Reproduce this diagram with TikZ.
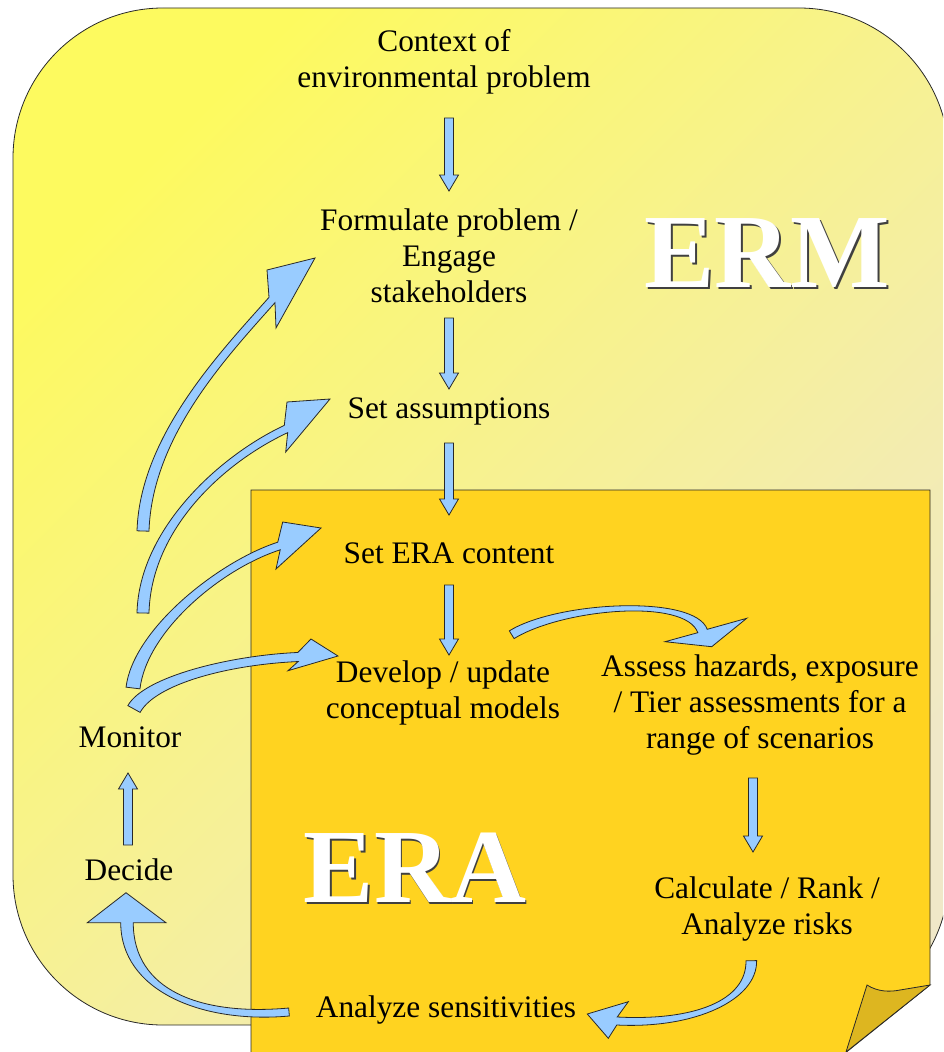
\documentclass[tikz,border=0pt]{standalone}
\usepackage{fontspec}
\setmainfont{Liberation Serif}
\usetikzlibrary{calc}
\definecolor{ermtop}{RGB}{253,250,95}
\definecolor{ermbot}{RGB}{240,232,200}
\definecolor{eragold}{RGB}{255,211,32}
\definecolor{flapgold}{RGB}{221,182,32}
\definecolor{arrowblue}{RGB}{153,204,255}
\definecolor{edge}{RGB}{40,40,40}
\tikzset{
  lbl/.style={align=center, inner sep=0pt, font=\fontsize{23.5}{27}\selectfont},
  bigtxt/.style={inner sep=0pt, font=\fontsize{79}{80}\selectfont\bfseries},
  barrow/.style={fill=arrowblue, draw=edge, line width=0.6pt, line join=miter},
}
\newcommand\vdown[3]{%
  \filldraw[barrow] (#1-4.5,#2) -- (#1+4.5,#2) -- (#1+4.5,#3-16) -- (#1+9.5,#3-16)
    -- (#1,#3) -- (#1-9.5,#3-16) -- (#1-4.5,#3-16) -- cycle;}
\newcommand\vup[3]{%
  \filldraw[barrow] (#1-4.5,#2) -- (#1+4.5,#2) -- (#1+4.5,#3+16) -- (#1+9.5,#3+16)
    -- (#1,#3) -- (#1-9.5,#3+16) -- (#1-4.5,#3+16) -- cycle;}
% curved block arrow: #1..#4 centre-line Bezier, #5 tail half width, #6 neck half width,
% #7 left head corner, #8 tip, #9 right head corner
\newcommand\carrow[9]{%
  \coordinate (p0) at (#1); \coordinate (p1) at (#2);
  \coordinate (p2) at (#3); \coordinate (p3) at (#4);
  \coordinate (l0) at ($(p0)!#5!90:(p1)$);
  \coordinate (r0) at ($(p0)!#5!-90:(p1)$);
  \coordinate (l3) at ($(p3)!#6!-90:(p2)$);
  \coordinate (r3) at ($(p3)!#6!90:(p2)$);
  \filldraw[barrow] (l0) .. controls ($(p1)+(l0)-(p0)$) and ($(p2)+(l3)-(p3)$) .. (l3)
    -- (#7) -- (#8) -- (#9) -- (r3)
    .. controls ($(p2)+(r3)-(p3)$) and ($(p1)+(r0)-(p0)$) .. (r0) -- cycle;}
\begin{document}
\begin{tikzpicture}[x=0.75pt,y=-0.75pt]
\useasboundingbox (0,0) rectangle (943,1052);
\clip (0,0) rectangle (943,1052);
% ERM frame
\shadedraw[draw=edge, line width=0.6pt, rounded corners=112.5pt,
  top color=ermtop, bottom color=ermbot, shading angle=45] (13,8) rectangle (949,1025);
% ERA note
\filldraw[fill=eragold, draw=edge, line width=0.6pt]
  (251,1070) -- (251,490) -- (930,490) -- (930,985) -- (834,1062) -- (834,1070) -- cycle;
\filldraw[fill=flapgold, draw=edge, line width=0.6pt]
  (867,985) .. controls (878,992) and (890,992) .. (900,990) -- (930,985) -- (846,1052) -- cycle;
% big titles
\node[bigtxt, text=black!75] (ermsh) at (769,255) {ERM};
\node[bigtxt, text=white] (erm) at (767.5,253) {ERM};
\node[bigtxt, text=black!75] (erash) at (416.5,870) {ERA};
\node[bigtxt, text=white] (era) at (415,868) {ERA};
% labels
\node[lbl] (ctx) at (444,62) {Context of\\environmental problem};
\node[lbl] (form) at (449,256) {Formulate problem /\\Engage\\stakeholders};
\node[lbl] (assm) at (449,411) {Set assumptions};
\node[lbl] (erac) at (449,553) {Set ERA content};
\node[lbl] (dev) at (443,693) {Develop / update\\conceptual models};
\node[lbl] (assess) at (760,705) {Assess hazards, exposure\\/ Tier assessments for a\\range of scenarios};
\node[lbl] (calc) at (767,909) {Calculate / Rank /\\Analyze risks};
\node[lbl] (sens) at (446,1010) {Analyze sensitivities};
\node[lbl] (decide) at (129,870) {Decide};
\node[lbl] (monitor) at (130,737) {Monitor};
% straight block arrows
\vdown{449}{118}{191}
\vdown{449}{318}{389}
\vdown{449}{443}{515}
\vdown{449}{585}{655}
\vdown{753}{778}{852}
\vup{128}{845}{773}
% curved arrows from Monitor
\carrow{143,531}{146,436}{224,354}{272,300}{4.5pt}{3pt}{267,270}{315,258}{276,328}
\carrow{143,613}{145,530}{220,460}{286,429}{4.5pt}{3pt}{287,402}{330,399}{285.7,452}
\carrow{133,688}{140,630}{220,565}{279,546}{5.25pt}{3pt}{282.7,522}{321,528}{276,569}
\carrow{134,709}{150,680}{230,660}{298,657}{5.25pt}{3.4pt}{311,639}{338,656}{288,670.7}
% Develop -> Assess
\carrow{511.7,634.7}{560,605}{690,596}{702.5,631}{3.4pt}{3.75pt}{746.7,618.3}{711.7,646.7}{665,641.7}
% Calculate -> Analyze sensitivities
\carrow{751.3,960.7}{752,1000}{695,1025}{617,1021}{4pt}{3pt}{608.3,1038.3}{587.3,1014}{628.3,1001.7}
% Analyze sensitivities -> Decide
\carrow{289,1012}{200,1020}{127,990}{127,922.7}{3pt}{4.7pt}{87.3,922.7}{126,892.7}{166,922.7}
\end{tikzpicture}
\end{document}
